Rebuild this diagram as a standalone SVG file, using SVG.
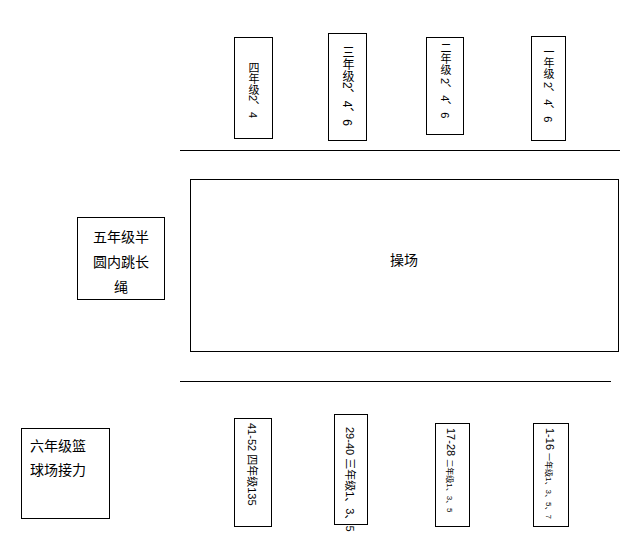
<svg xmlns="http://www.w3.org/2000/svg" width="633" height="555" viewBox="0 0 633 555">
<style>
rect{fill:#fff;stroke:#000;stroke-width:1}
line{stroke:#000;stroke-width:1}
text{font-family:"Liberation Sans","Noto Sans CJK SC",sans-serif;fill:#000}
.v{writing-mode:vertical-rl;text-orientation:mixed;font-size:11px}
.r{font-size:11px}
.b{font-size:14px}
</style>
<rect width="633" height="555" style="fill:#fff;stroke:none"/>
<g id="connectors">
<line x1="180" y1="150.5" x2="620" y2="150.5"/>
<line x1="180" y1="381.5" x2="611" y2="381.5"/>
</g>
<g id="g4top"><rect x="234.5" y="37.5" width="38" height="101"/><text class="v" x="253" y="62">四年级2、4</text></g>
<g id="g3top"><rect x="328.5" y="33.5" width="38" height="107"/><text class="v" x="347" y="46" style="font-size:12px">三年级2、4、6</text></g>
<g id="g2top"><rect x="426.5" y="37.5" width="37" height="97"/><text class="v" x="445" y="42">二年级 2、4、6</text></g>
<g id="g1top"><rect x="531.5" y="36.5" width="34" height="104"/><text class="v" x="548" y="46">一年级 2、4、6</text></g>
<g id="playground"><rect x="190.5" y="179.5" width="428" height="172"/><text class="b" x="404" y="265" text-anchor="middle">操场</text></g>
<g id="g5"><rect x="77.5" y="217.5" width="87" height="82"/>
<text class="b" x="121" y="242" text-anchor="middle">五年级半</text>
<text class="b" x="121" y="267" text-anchor="middle">圆内跳长</text>
<text class="b" x="121" y="292" text-anchor="middle">绳</text></g>
<g id="g6"><rect x="21.5" y="428.5" width="88" height="90"/>
<text class="b" x="30" y="451">六年级篮</text>
<text class="b" x="30" y="475">球场接力</text></g>
<g id="b4"><rect x="234.5" y="418.5" width="37" height="108"/><text class="r" transform="translate(248,423) rotate(90)">41-52  四年级135</text></g>
<g id="b3"><rect x="334.5" y="414.5" width="33" height="110"/><text class="r" transform="translate(346,427) rotate(90)">29-40 三年级1、3、5</text></g>
<g id="b2"><rect x="435.5" y="423.5" width="34" height="103"/><text transform="translate(447,428) rotate(90)"><tspan style="font-size:11px">17-28  </tspan><tspan style="font-size:8px">二年级1、3、5</tspan></text></g>
<g id="b1"><rect x="533.5" y="423.5" width="35" height="103"/><text transform="translate(546,428) rotate(90)"><tspan style="font-size:11px">1-16  </tspan><tspan style="font-size:8px">一年级1、3、5、7</tspan></text></g>
</svg>
